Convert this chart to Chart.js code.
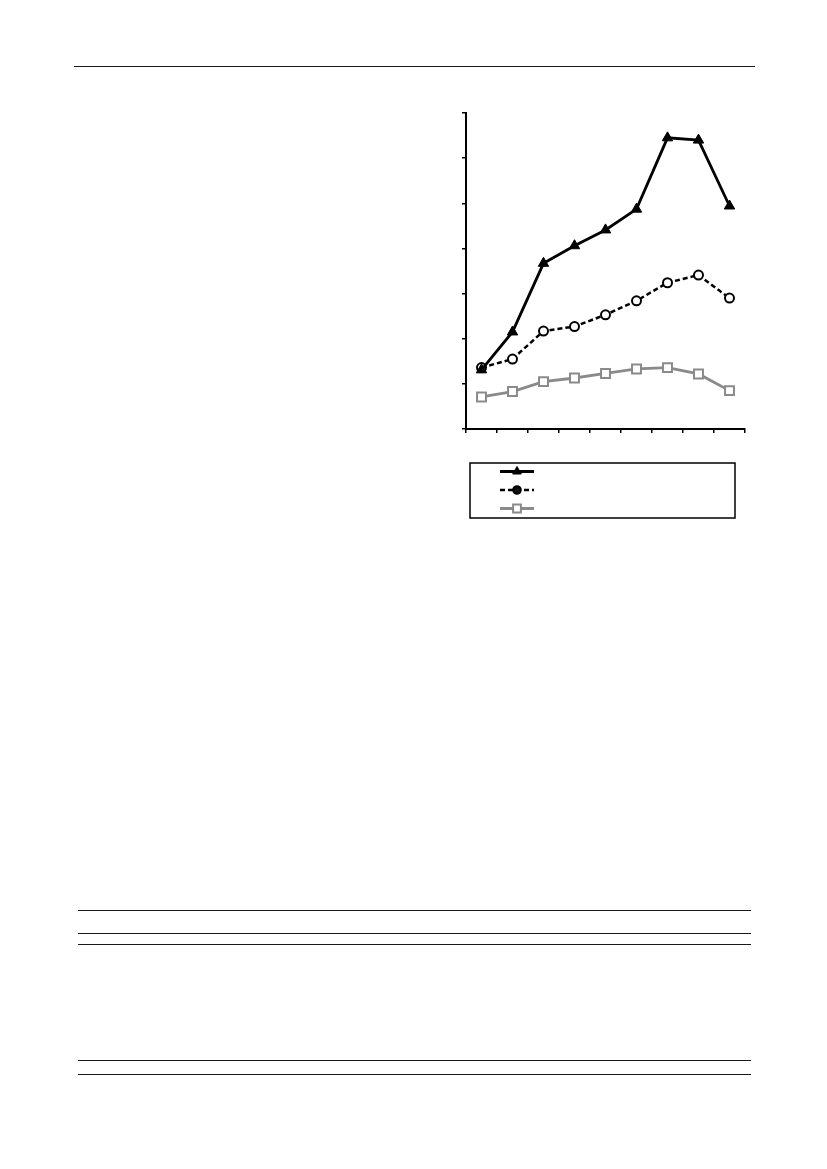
<!DOCTYPE html>
<html lang="en"><head>
<meta charset="utf-8"/>
<title>Line chart</title>
<script src="https://cdn.jsdelivr.net/npm/chart.js"></script>
<style>
        html, body { margin: 0; padding: 0; background: #fff; }
        body { width: 827px; height: 1169px; position: relative; font-family: 'Liberation Serif', serif; }
        .rule { position: absolute; height: 1px; background: #1a1a1a; }
        #chartWrap { position: absolute; left: 420px; top: 100px; width: 350px; height: 430px; }
    </style>
</head>
<body>
<div class="rule" style="left:74px; top:66px; width:681px;"></div>

<div id="chartWrap"><canvas id="lineChart"></canvas></div>

<div class="rule" style="left:78px; top:910px; width:673px;"></div>
<div class="rule" style="left:78px; top:933px; width:673px;"></div>
<div class="rule" style="left:78px; top:944px; width:673px;"></div>
<div class="rule" style="left:78px; top:1060px; width:673px;"></div>
<div class="rule" style="left:78px; top:1074px; width:673px;"></div>

<script>
        // category slots along x (labels are not printed in the figure)
        const categories = ['1', '2', '3', '4', '5', '6', '7', '8', '9'];
        // y ticks 0..70, step 10
        const yTicks = [0, 10, 20, 30, 40, 50, 60, 70];

        const seriesTriangle = [13.1, 21.5, 36.7, 40.6, 44.1, 48.7, 64.5, 64.0, 49.4];
        const seriesCircle = [13.6, 15.5, 21.7, 22.7, 25.3, 28.4, 32.4, 34.1, 29.0];
        const seriesSquare = [7.1, 8.3, 10.5, 11.3, 12.3, 13.3, 13.6, 12.2, 8.5];

        // legend drawn in a framed box under the plot, no text
        const legendBox = {
            id: 'legendBox',
            afterDraw(chart) {
                const ctx = chart.ctx;
                ctx.save();
                ctx.lineWidth = 1.5;
                ctx.strokeStyle = '#000';
                ctx.strokeRect(50, 363, 265, 55);
                chart.data.datasets.forEach((ds, i) => {
                    const y = 371.5 + i * 18.5;
                    ctx.beginPath();
                    ctx.setLineDash(ds.borderDash || []);
                    ctx.strokeStyle = ds.borderColor;
                    ctx.lineWidth = ds.borderWidth;
                    ctx.moveTo(80, y);
                    ctx.lineTo(114, y);
                    ctx.stroke();
                    ctx.setLineDash([]);
                    ctx.fillStyle = ds.legendFill;
                    ctx.strokeStyle = ds.pointBorderColor;
                    ctx.lineWidth = ds.pointBorderWidth;
                    Chart.helpers.drawPoint(ctx, {
                        pointStyle: ds.pointStyle,
                        radius: ds.legendRadius,
                        borderWidth: ds.pointBorderWidth,
                        rotation: 0
                    }, 97, y);
                });
                ctx.restore();
            }
        };

        document.addEventListener('DOMContentLoaded', () => {
            const ctx = document.getElementById('lineChart').getContext('2d');
            new Chart(ctx, {
                type: 'line',
                data: {
                    labels: categories,
                    datasets: [
                        {
                            label: 'A',
                            data: seriesTriangle,
                            borderColor: '#000',
                            borderWidth: 2.8,
                            pointStyle: 'triangle',
                            pointRadius: 6,
                            pointBackgroundColor: '#000',
                            pointBorderColor: '#000',
                            pointBorderWidth: 1,
                            legendFill: '#000',
                            legendRadius: 5
                        },
                        {
                            label: 'B',
                            data: seriesCircle,
                            borderColor: '#000',
                            borderWidth: 2.5,
                            borderDash: [5, 3],
                            pointStyle: 'circle',
                            pointRadius: 4.5,
                            pointBackgroundColor: '#fff',
                            pointBorderColor: '#000',
                            pointBorderWidth: 2,
                            legendFill: '#111',
                            legendRadius: 3.8
                        },
                        {
                            label: 'C',
                            data: seriesSquare,
                            borderColor: '#8a8a8a',
                            borderWidth: 2.8,
                            pointStyle: 'rect',
                            pointRadius: 6.3,
                            pointBackgroundColor: '#fff',
                            pointBorderColor: '#8a8a8a',
                            pointBorderWidth: 2,
                            legendFill: '#fff',
                            legendRadius: 5.5
                        }
                    ]
                },
                options: {
                    responsive: true,
                    maintainAspectRatio: false,
                    animation: false,
                    layout: {
                        padding: { left: 42, top: 13, right: 25, bottom: 97 }
                    },
                    elements: {
                        line: { tension: 0, fill: false }
                    },
                    scales: {
                        x: {
                            offset: true,
                            grid: {
                                offset: true,
                                drawOnChartArea: false,
                                drawTicks: true,
                                tickLength: 4,
                                tickColor: '#000',
                                lineWidth: 1.5
                            },
                            border: { display: true, color: '#000', width: 2 },
                            ticks: { display: false }
                        },
                        y: {
                            min: yTicks[0],
                            max: yTicks[yTicks.length - 1],
                            afterBuildTicks: (axis) => {
                                axis.ticks = yTicks.map(v => ({ value: v }));
                            },
                            grid: {
                                drawOnChartArea: false,
                                drawTicks: true,
                                tickLength: 4,
                                tickColor: '#000',
                                lineWidth: 1.5
                            },
                            border: { display: true, color: '#000', width: 2 },
                            ticks: { display: false }
                        }
                    },
                    plugins: {
                        legend: { display: false },
                        tooltip: { enabled: false }
                    }
                },
                plugins: [legendBox]
            });
        });
    </script>
</body></html>
